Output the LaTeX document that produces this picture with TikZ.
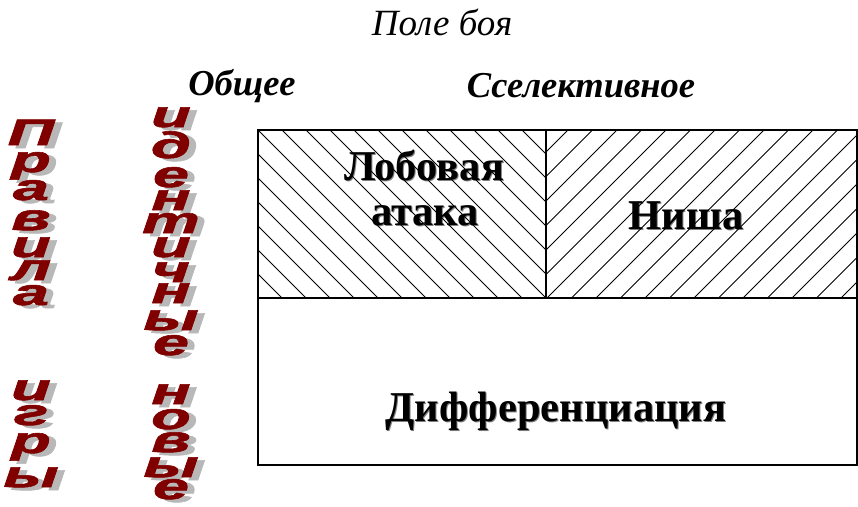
\documentclass[tikz,border=0pt]{standalone}
\usepackage{fontspec}
\setmainfont{Liberation Serif}
\newfontfamily\wafont[FakeBold=1.5]{Liberation Sans Bold Italic}
\definecolor{wared}{HTML}{800000}
\definecolor{wagray}{HTML}{B8B8B8}
\definecolor{lblshadow}{HTML}{808080}
\newcommand\wastretch[1]{\scalebox{1.75}[1]{#1}}
\tikzset{
  waletter/.style={anchor=base, inner sep=0pt, text=wared,
    font=\wafont\fontsize{37}{37}\selectfont},
  washadow/.style={waletter, text=wagray},
  titletext/.style={font=\itshape\fontsize{37}{37}\selectfont, inner sep=0pt},
  headtext/.style={font=\bfseries\itshape\fontsize{36.5}{36.5}\selectfont, inner sep=0pt},
  celltext/.style={font=\bfseries\fontsize{42.5}{42.5}\selectfont, inner sep=0pt},
  cellshadow/.style={celltext, text=lblshadow},
  frame/.style={draw=black, line width=1.6pt},
  hatch/.style={draw=black, line width=1pt}
}
\newcommand\wl[4]{%
  \node[washadow] (#1s) at (#2+7,#3+3) {\wastretch{#4}};
  \node[waletter] (#1) at (#2,#3) {\wastretch{#4}};}
\newcommand\cl[4]{%
  \node[cellshadow] (#1s) at (#2+1,#3+1) {#4};
  \node[celltext] (#1) at (#2,#3) {#4};}
\begin{document}
\begin{tikzpicture}[x=1pt,y=-1pt]
\useasboundingbox (0,0) rectangle (858,506);
% titles
\node[titletext] (title) at (442,22) {Поле боя};
\node[headtext] (general) at (242,86) {Общее};
\node[headtext] (selective) at (581,86) {Сселективное};
% geometry
\coordinate (tl) at (258,130);
\coordinate (tm) at (546,130);
\coordinate (tr) at (857,130);
\coordinate (ml) at (258,298);
\coordinate (mm) at (546,298);
\coordinate (mr) at (857,298);
\coordinate (bl) at (258,465);
\coordinate (br) at (857,465);
% cell labels (under the hatching, as in the reference)
\cl{lob1}{424}{165}{Лобовая}
\cl{lob2}{425}{216}{атака}
\cl{niche}{686}{216}{Ниша}
\cl{diff}{556}{411}{Дифференциация}
% hatching left cell
\begin{scope}
  \clip (tl) rectangle (mm);
  \foreach \k in {-8,...,13} \draw[hatch] (258+24*\k,130) -- ++(220,220);
\end{scope}
% hatching right cell
\begin{scope}
  \clip (tm) rectangle (mr);
  \foreach \k in {-1,...,20} \draw[hatch] (568+24.5*\k,130) -- ++(-220,220);
\end{scope}
% frame
\draw[frame] (tl) rectangle (br);
\draw[frame] (ml) -- (mr);
\draw[frame] (tm) -- (mm);
% word art column 1
\wl{a1}{31}{145}{П}
\wl{a2}{31}{172}{р}
\wl{a3}{31}{200}{а}
\wl{a4}{31}{230}{в}
\wl{a5}{31}{257}{и}
\wl{a6}{31}{280}{л}
\wl{a7}{31}{305}{а}
\wl{b1}{31}{400}{и}
\wl{b2}{31}{425}{г}
\wl{b3}{31}{453}{р}
\wl{b4}{31}{487}{ы}
% word art column 2
\wl{c1}{171}{127}{и}
\wl{c2}{171}{158}{д}
\wl{c3}{171}{187}{е}
\wl{c4}{171}{210}{н}
\wl{c5}{171}{233}{т}
\wl{c6}{171}{257}{и}
\wl{c7}{171}{282}{ч}
\wl{c8}{171}{303}{н}
\wl{c9}{171}{330}{ы}
\wl{c10}{171}{355}{е}
\wl{d1}{171}{404}{н}
\wl{d2}{171}{429}{о}
\wl{d3}{171}{452}{в}
\wl{d4}{171}{477}{ы}
\wl{d5}{171}{499}{е}
\end{tikzpicture}
\end{document}
